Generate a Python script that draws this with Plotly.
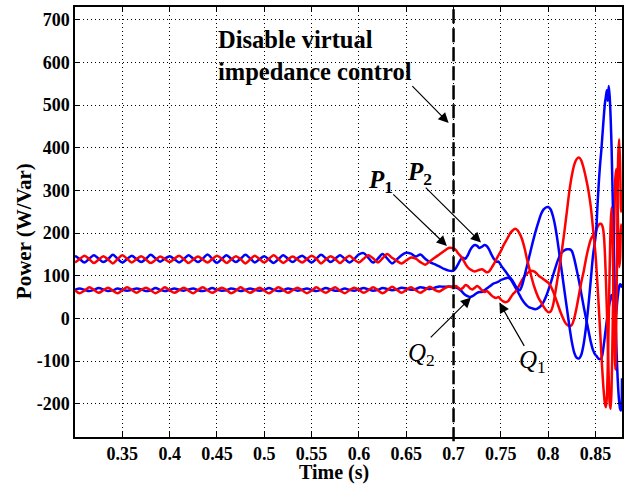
import plotly.graph_objects as go

# ---------------- data ----------------
t_steady = [0.300, 0.305, 0.310, 0.315, 0.320, 0.325, 0.330, 0.335, 0.340, 0.345,
            0.350, 0.355, 0.360, 0.365, 0.370, 0.375, 0.380, 0.385, 0.390, 0.395,
            0.400, 0.405, 0.410, 0.415, 0.420, 0.425, 0.430, 0.435, 0.440, 0.445,
            0.450, 0.455, 0.460, 0.465, 0.470, 0.475, 0.480, 0.485, 0.490, 0.495,
            0.500, 0.505, 0.510, 0.515, 0.520, 0.525, 0.530, 0.535, 0.540, 0.545,
            0.550, 0.555, 0.560, 0.565, 0.570, 0.575, 0.580, 0.585, 0.590, 0.595,
            0.600, 0.605, 0.610, 0.615, 0.620, 0.625, 0.630, 0.635, 0.640, 0.645,
            0.650, 0.655, 0.660, 0.665, 0.670, 0.675, 0.680, 0.685, 0.690, 0.695]
t_trans = [0.7000, 0.7025, 0.7050, 0.7075, 0.7100, 0.7125, 0.7150, 0.7175, 0.7200, 0.7225,
           0.7250, 0.7275, 0.7300, 0.7325, 0.7350, 0.7375, 0.7400, 0.7425, 0.7450, 0.7475,
           0.7500, 0.7525, 0.7550, 0.7575, 0.7600, 0.7625, 0.7650, 0.7675, 0.7700, 0.7725,
           0.7750, 0.7775, 0.7800, 0.7825, 0.7850, 0.7875, 0.7900, 0.7925, 0.7950, 0.7975,
           0.8000, 0.8025, 0.8050, 0.8075, 0.8100, 0.8125, 0.8150, 0.8175, 0.8200, 0.8225,
           0.8250, 0.8275, 0.8300, 0.8325, 0.8350, 0.8375, 0.8400, 0.8425, 0.8450, 0.8475,
           0.8500]
t_end = [0.851, 0.852, 0.853, 0.854, 0.855, 0.856, 0.857, 0.858, 0.859, 0.860,
         0.861, 0.862, 0.863, 0.864, 0.865, 0.866, 0.867, 0.868, 0.869, 0.870,
         0.871, 0.872, 0.873, 0.874, 0.875, 0.876, 0.877, 0.878]

# P1 (red)
p1_steady = [131, 139, 147, 139, 130, 138, 146, 138, 129, 139, 148, 140, 131, 139, 146, 138,
             130, 137, 145, 139, 132, 140, 147, 139, 130, 138, 145, 138, 131, 139, 147, 140,
             130, 138, 146, 139, 129, 138, 147, 139, 131, 140, 148, 139, 130, 138, 145, 138,
             131, 139, 147, 140, 129, 138, 146, 139, 130, 139, 147, 138, 131, 140, 148, 141,
             131, 141, 151, 142, 135, 129, 136, 143, 140, 132, 126, 134, 142, 150, 158, 165]
p1_trans = [164, 160, 152, 146, 138, 128, 120, 115, 112, 110,
            112, 114, 115, 112, 108, 110, 118, 127, 138, 148,
            158, 170, 180, 190, 200, 206, 210, 207, 198, 185,
            165, 140, 118, 96, 76, 60, 47, 38, 28, 20,
            15, 16, 30, 60, 95, 130, 168, 210, 255, 300,
            335, 360, 373, 377, 370, 352, 328, 300, 262, 208,
            150]
p1_end = [118, 82, 45, 5, -35, -75, -115, -150, -180, -200,
          -208, -185, -110, 0, 120, 220, 260, 200, 60, -80,
          -120, 0, 200, 380, 420, 360, 250, 300]

# P2 (blue)
p2_steady = [147, 139, 131, 140, 148, 140, 132, 139, 149, 140, 131, 139, 147, 139, 132, 140,
             149, 141, 133, 140, 146, 139, 131, 139, 148, 140, 132, 140, 150, 140, 130, 139,
             148, 140, 132, 140, 149, 141, 131, 139, 146, 138, 130, 139, 148, 140, 132, 141,
             147, 139, 131, 140, 149, 141, 132, 140, 148, 140, 131, 139, 150, 153, 142, 131,
             140, 151, 140, 129, 138, 148, 154, 152, 145, 150, 140, 132, 127, 122, 116, 112]
p2_trans = [112, 118, 128, 138, 142, 140, 148, 160, 168, 172,
            170, 165, 168, 172, 170, 162, 150, 140, 133, 133,
            125, 117, 110, 102, 95, 88, 78, 70, 66, 78,
            100, 122, 145, 168, 190, 210, 228, 245, 255, 260,
            261, 256, 240, 215, 180, 140, 100, 60, 20, -20,
            -55, -80, -92, -94, -85, -60, -20, 30, 90, 150,
            190]
p2_end = [215, 260, 300, 335, 365, 390, 420, 450, 480, 505,
          520, 535, 510, 545, 520, 470, 400, 300, 200, 100,
          10, -60, -120, -165, -195, -212, -216, -140]

# Q1 (red)
q1_steady = [66, 59, 65, 73, 67, 60, 66, 72, 65, 59, 66, 73, 67, 60, 67, 72,
             66, 59, 65, 73, 66, 60, 66, 72, 65, 59, 67, 73, 66, 60, 66, 72,
             67, 59, 65, 73, 66, 60, 66, 72, 65, 59, 66, 73, 67, 60, 66, 72,
             66, 59, 65, 73, 66, 60, 67, 73, 65, 59, 66, 72, 67, 60, 66, 73,
             66, 59, 66, 74, 67, 60, 67, 73, 66, 60, 67, 74, 67, 63, 70, 75]
q1_trans = [72, 76, 72, 68, 72, 78, 76, 70, 68, 72,
            76, 72, 66, 62, 64, 60, 54, 50, 48, 50,
            44, 40, 38, 40, 48, 56, 62, 70, 80, 90,
            98, 105, 110, 112, 110, 106, 100, 96, 92, 88,
            84, 76, 64, 50, 34, 18, 4, -8, -15, -18,
            -15, 0, 25, 55, 85, 110, 140, 165, 185, 195,
            200]
q1_end = [208, 214, 218, 221, 222, 222, 218, 210, 190, 150,
          90, 20, -60, -140, -200, -212, -160, -40, 100, 240,
          330, 350, 300, 200, 120, 140, 220, 200]

# Q2 (blue)
q2_steady = [67, 70, 67, 64, 67, 71, 68, 64, 66, 70, 67, 65, 67, 70, 68, 64,
             66, 71, 67, 64, 67, 70, 67, 65, 68, 70, 66, 64, 67, 71, 67, 65,
             66, 70, 68, 64, 67, 70, 67, 65, 67, 71, 67, 64, 66, 70, 68, 65,
             67, 70, 67, 64, 67, 71, 68, 65, 66, 70, 67, 65, 68, 71, 68, 65,
             67, 71, 69, 66, 68, 72, 70, 67, 69, 73, 71, 69, 72, 75, 74, 75]
q2_trans = [74, 72, 70, 66, 60, 55, 52, 50, 52, 56,
            60, 62, 62, 66, 70, 74, 78, 82, 84, 86,
            90, 92, 94, 95, 92, 84, 74, 64, 54, 44,
            36, 30, 26, 24, 22, 22, 25, 30, 38, 50,
            65, 82, 100, 118, 135, 148, 156, 160, 162, 162,
            158, 140, 115, 88, 58, 28, 0, -28, -55, -75,
            -86]
q2_end = [-88, -91, -94, -95, -95, -94, -88, -75, -58, -40,
          -22, -5, 10, 25, 38, 48, 55, 50, 30, 10,
          0, 15, 40, 60, 75, 80, 78, 72]

x_ticks = [0.35, 0.4, 0.45, 0.5, 0.55, 0.6, 0.65, 0.7, 0.75, 0.8, 0.85]
x_tick_labels = ["0.35", "0.4", "0.45", "0.5", "0.55", "0.6", "0.65", "0.7", "0.75", "0.8", "0.85"]
y_ticks = [-200, -100, 0, 100, 200, 300, 400, 500, 600, 700]
y_tick_labels = ["-200", "-100", "0", "100", "200", "300", "400", "500", "600", "700"]

# ---------------- figure ----------------
t_all = t_steady + t_trans + t_end
series = [
    ("Q2", q2_steady + q2_trans + q2_end, "#0000ff"),
    ("Q1", q1_steady + q1_trans + q1_end, "#ff0000"),
    ("P2", p2_steady + p2_trans + p2_end, "#0000ff"),
    ("P1", p1_steady + p1_trans + p1_end, "#ff0000"),
]

fig = go.Figure()
for name, vals, col in series:
    fig.add_trace(go.Scatter(x=t_all, y=vals, mode="lines", name=name,
                             line=dict(color=col, width=2.5, shape="spline", smoothing=0.8),
                             showlegend=False, hoverinfo="skip"))

FONT = "Liberation Serif"
axis_common = dict(showline=True, linecolor="black", linewidth=1.5, mirror="ticks",
                   ticks="inside", ticklen=5, tickcolor="black", tickwidth=1.2,
                   showgrid=True, gridcolor="black", gridwidth=1, griddash="1px,3px",
                   zeroline=False, automargin=False,
                   tickfont=dict(family=FONT, size=18, color="black", weight="bold"))

fig.update_xaxes(range=[0.3, 0.878], tickvals=x_ticks, ticktext=x_tick_labels, **axis_common)
fig.update_yaxes(range=[-278, 730], tickvals=y_ticks, ticktext=y_tick_labels, **axis_common)

# dashed vertical line at switching instant
fig.add_shape(type="line", xref="x", yref="paper", x0=0.7, x1=0.7, y0=-0.01, y1=0.995,
              line=dict(color="black", width=2.5, dash="14px,5px"))

ann = []
# axis titles
ann.append(dict(text="<b>Time (s)</b>", xref="paper", yref="paper", x=0.4735, y=-0.1145,
                xanchor="center", yanchor="bottom", showarrow=False,
                font=dict(family=FONT, size=20, color="black")))
ann.append(dict(text="<b>Power (W/Var)</b>", xref="paper", yref="paper", x=-0.093, y=0.479,
                xanchor="center", yanchor="middle", textangle=-90, showarrow=False,
                font=dict(family=FONT, size=21, color="black")))
# main annotation
ann.append(dict(text="<b>Disable virtual<br>impedance control</b>", xref="x", yref="y",
                x=0.4495, y=616, xanchor="left", yanchor="middle", align="left",
                showarrow=False, font=dict(family=FONT, size=24.5, color="black")))
ann.append(dict(text="", x=0.6948, y=458, ax=0.6549, ay=548, xref="x", yref="y",
                axref="x", ayref="y", showarrow=True, arrowhead=2, arrowsize=1.7,
                arrowwidth=1.2, arrowcolor="black"))
# curve labels
labels = [("<b><i>P</i><sub>1</sub></b>", 0.6231, 322),
          ("<b><i>P</i><sub>2</sub></b>", 0.6644, 340),
          ("<i>Q</i><sub>2</sub>", 0.6665, -85),
          ("<i>Q</i><sub>1</sub>", 0.783, -101)]
for txt, lx, ly in labels:
    ann.append(dict(text=txt, x=lx, y=ly, xref="x", yref="y", showarrow=False,
                    xanchor="center", yanchor="middle",
                    font=dict(family=FONT, size=25, color="black")))
arrows = [(0.693, 170, 0.6347, 294),
          (0.729, 178, 0.669, 310),
          (0.7184, 49, 0.6743, -48),
          (0.7484, 37, 0.7756, -68)]
for hx, hy, tx, ty in arrows:
    ann.append(dict(text="", x=hx, y=hy, ax=tx, ay=ty, xref="x", yref="y",
                    axref="x", ayref="y", showarrow=True, arrowhead=2, arrowsize=1.7,
                    arrowwidth=1.2, arrowcolor="black"))

fig.update_layout(width=633, height=487, margin=dict(l=75, r=11, t=7, b=50),
                  paper_bgcolor="white", plot_bgcolor="white", annotations=ann)

fig.write_html("out.html", config={"displayModeBar": False},
               post_script="document.body.style.margin='0px';")
